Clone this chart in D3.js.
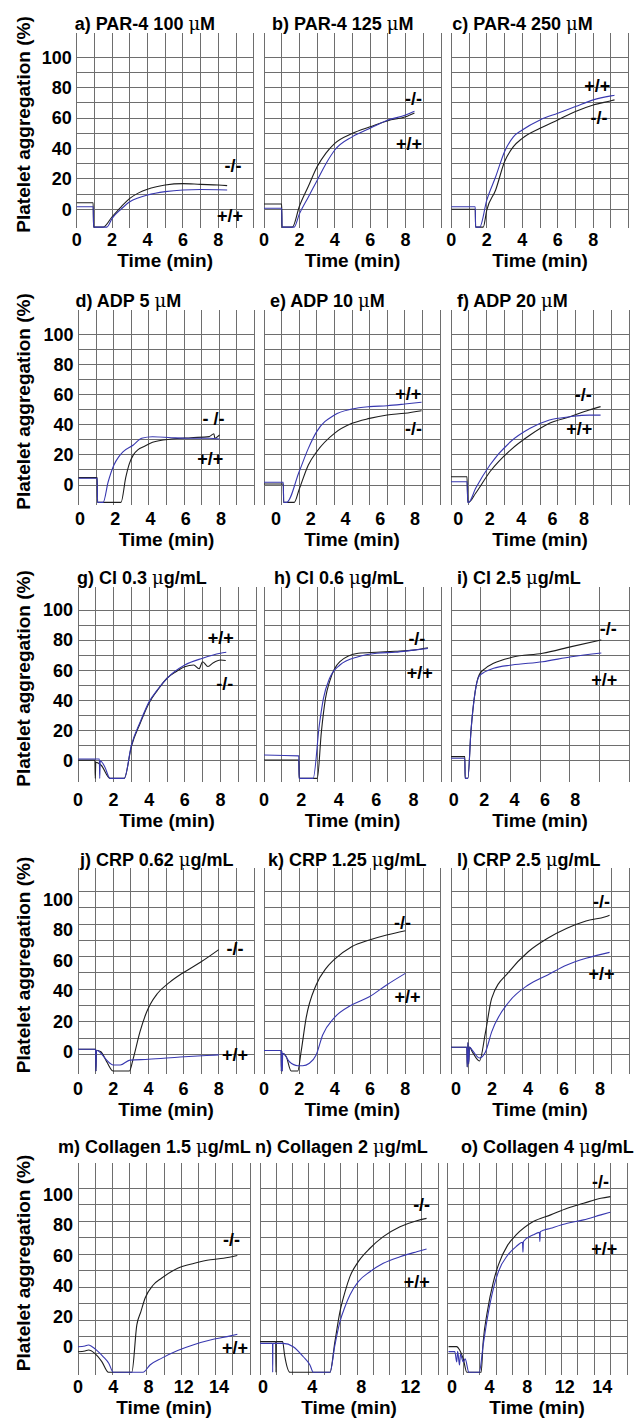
<!DOCTYPE html>
<html><head><meta charset="utf-8">
<script src="https://cdn.jsdelivr.net/npm/d3@7"></script>
<style>
html,body{margin:0;padding:0;background:#fff;}
svg{display:block;}
text{font-family:"Liberation Sans",Arial,Helvetica,sans-serif;font-weight:bold;fill:#000;}
</style></head><body>
<svg id="chart" width="644" height="1419"></svg>
<script>
// ---------------- DATA ----------------
const titles = ["a) PAR-4 100 μM","b) PAR-4 125 μM","c) PAR-4 250 μM",
  "d) ADP 5 μM","e) ADP 10 μM","f) ADP 20 μM",
  "g) Cl 0.3 μg/mL","h) Cl 0.6 μg/mL","i) Cl 2.5 μg/mL",
  "j) CRP 0.62 μg/mL","k) CRP 1.25 μg/mL","l) CRP 2.5 μg/mL",
  "m) Collagen 1.5 μg/mL","n) Collagen 2 μg/mL","o) Collagen 4 μg/mL"];
const yAxisTitle = "Platelet aggregation (%)";
const xAxisTitle = "Time (min)";
const yTicks = [0,20,40,60,80,100];
const minTicks = [0,2,4,6,8];
const minTickText = ["0","2","4","6","8"];
const colTicks = [0,4,8,12,16];
const colTickText = ["0","4","8","12","14"];
const koText = ["-/-","-/-","-/-","- /-","-/-","-/-","-/-","-/-","-/-","-/-","-/-","-/-","-/-","-/-","-/-"];
const wtText = "+/+";
// time span (min) covered by each recorder grid, left edge to right edge
const xDomains = [[0,10],[0,10],[0,10],[-0.08,9.9],[-0.69,9.43],[-0.47,10.87],
  [0,10],[0,9.47],[-0.18,11.53],[0,10],[0,10],[-0.28,9.61],[0,19.5],[-0.24,14.23],[-0.53,18.62]];
// label anchors (min, %)
const koLabelAt = [[8.83,29],[8.45,73],[8.33,60],[7.57,44.3],[7.9,37.6],[7.95,59.7],[8.25,51.4],[8.18,80.8],[10.17,87.9],[8.92,67.8],[7.84,84.9],[8.08,98.4],[17.4,70],[12.9,93],[15.8,108]];
const wtLabelAt = [[8.66,-4.2],[8.2,43],[8.23,81],[7.39,17.7],[7.6,60.8],[7.7,37.6],[8.02,81.6],[8.33,58.7],[9.9,53.6],[8.92,-1.7],[8.12,36.1],[8.08,51.4],[17.8,-0.7],[12.5,42.7],[16.2,64]];

// traces: [time (min), aggregation (%)]; KO = -/- (black), WT = +/+ (blue)
const aKO=[[0,4.3],[0.93,4.3],[0.95,-11.7],[1.5,-11.7],[2,-4.9],[2.5,1.5],[3,7.2],[3.5,10.8],[4,13.2],[4.5,14.8],[5,16],[6,16.9],[7,16.4],[8,16],[8.5,15.6]];
const aWT=[[0,1.7],[0.93,1.7],[0.96,-11.7],[1.7,-11.7],[2,-6],[2.5,0],[3,5],[3.5,7.6],[4,9.4],[5,11.6],[6,12.7],[7,13],[8,12.9],[8.5,12.7]];
const bKO=[[0,3.5],[1.0,3.5],[1.02,-11.7],[1.6,-11.7],[2,2],[2.5,15],[3,28],[3.5,37],[4,43.4],[5,50],[6,54.3],[7,58.3],[8,60.9],[8.5,63.4]];
const bWT=[[0,0.7],[1.0,0.7],[1.02,-11.7],[1.7,-11.7],[2,-3],[2.5,8],[3,19],[3.5,30],[4,39],[5,47.8],[6,53.3],[7,58.7],[8,62],[8.5,64.5]];
const cKO=[[0,0],[1.35,0],[1.37,-11.7],[1.8,-11.7],[2,-0.5],[2.5,12.7],[3,31.3],[3.5,41.2],[4,46.7],[5,53.3],[6,58.8],[7,64.3],[8,68.6],[9,71.4],[9.2,72]];
const cWT=[[0,1.7],[1.35,1.7],[1.37,-11.7],[1.6,-11.7],[2,6],[2.5,21.4],[3,37.9],[3.5,47.7],[4,52.2],[5,58.8],[6,63.2],[7,67.6],[8,72],[9,74.6],[9.2,75]];
const dKO=[[-0.08,4.9],[0.98,4.9],[1.0,-11.5],[2.33,-11.5],[2.6,5],[2.8,14],[3.03,20],[3.3,23.5],[3.61,25.4],[4.12,28.3],[5.19,30.5],[6.29,31.4],[7.33,32.1],[7.6,34],[7.65,31],[7.92,33.2]];
const dWT=[[-0.08,4.5],[0.98,4.5],[1.0,-11.5],[1.32,-11.5],[1.6,2],[1.93,13.3],[2.21,18.8],[2.44,22],[3.03,26.5],[3.5,31],[4.12,32],[5.19,31.4],[6.29,31],[7.33,31],[7.92,30.5]];
const eKO=[[-0.69,0.7],[0.42,0.7],[0.44,-11.5],[1.05,-11.5],[1.33,-3],[1.86,13.3],[2.34,22.1],[3.36,34.3],[4.37,40.9],[5.38,44.2],[6.39,46.5],[7.4,47.6],[8.37,49.3]];
const eWT=[[-0.69,1.8],[0.42,1.8],[0.44,-11.5],[0.61,-11.5],[1.33,8.8],[1.86,24.3],[2.34,35.4],[3.36,46.5],[4.37,50.4],[5.38,52],[6.39,52.6],[7.4,53.7],[8.37,54.9]];
const fKO=[[-0.47,5.5],[0.55,5.5],[0.6,-11.5],[0.65,-11.5],[1.1,-5.5],[2.01,8.8],[3.32,23.2],[4.57,33.2],[5.8,41],[7.1,45.3],[8.33,49.8],[9.06,52]];
const fWT=[[-0.47,2.2],[0.55,2.2],[0.6,-11.5],[0.65,-11.5],[1.1,-2.2],[2.01,13.3],[3.32,28.7],[4.57,37.6],[5.8,43.1],[7.1,45.3],[8.33,46.4],[9.06,46.4]];
const gKO=[[0,0.4],[0.95,0.4],[0.97,-11.7],[1.0,-1],[1.3,-3],[1.8,-11.7],[2.6,-11.7],[3,9.5],[3.5,25],[4,38.5],[4.45,46.5],[5,54.7],[5.5,59],[6,62.4],[6.5,63.5],[6.8,61],[7,65.7],[7.3,62.5],[7.6,65],[8,66.8],[8.3,66.5]];
const gWT=[[0,1.1],[1.2,1.1],[1.22,-11.7],[1.25,0],[1.5,-4],[1.8,-11.7],[2.6,-11.7],[3,10.4],[3.5,25.9],[4,39.2],[4.45,46.9],[5,54.7],[6,63.5],[7,68],[8,71.3],[8.33,72]];
const hKO=[[0,0.5],[1.86,0.5],[1.88,-11.7],[2.85,-11.7],[3.07,19.2],[3.29,41.4],[3.51,52.5],[4.06,65.7],[5.04,71.3],[6.03,72],[7.02,72.6],[8,73.4],[8.77,74.9]];
const hWT=[[0,3.8],[1.86,3.2],[1.88,-11.7],[2.63,-11.7],[2.96,23.7],[3.18,41.4],[3.51,54.7],[4.06,63.5],[5.04,69],[6.03,71.3],[7.02,72],[8,73.4],[8.77,74.5]];
const iKO=[[-0.18,2.7],[0.73,2.7],[0.75,-11.7],[0.93,-11.7],[1.13,19.2],[1.41,45.8],[1.67,56.9],[2.08,61.3],[2.62,64.6],[3.83,68.6],[5.85,71.3],[7.74,75.7],[9.71,80.1]];
const iWT=[[-0.18,1.6],[0.73,1.6],[0.75,-11.7],[0.93,-11.7],[1.13,19.2],[1.41,45.8],[1.67,56],[2.08,59.1],[2.62,61.3],[3.83,63.5],[5.85,65.7],[7.74,69],[9.71,71.5]];
const jKO=[[0,1.6],[1.0,1.6],[1.02,-12.7],[1.05,1],[1.3,0],[1.63,-6.6],[2.0,-12.7],[2.92,-12.7],[3.14,-4.4],[3.52,13],[3.9,26],[4.1,31],[4.5,38],[5.2,45.5],[6,52],[7,59],[8,67]];
const jWT=[[0,1.6],[1.0,1.6],[1.02,-12.7],[1.05,1],[1.3,-1],[1.63,-5.5],[2.0,-8.7],[2.4,-8.7],[2.95,-5.5],[4,-5],[5.8,-3.5],[7.3,-2.5],[8,-2.1]];
const kKO=[[0,0.8],[0.97,0.8],[0.98,-12.7],[1.0,0.5],[1.02,-12.7],[1.05,-1],[1.25,-3],[1.54,-12.7],[1.91,-12.7],[2.1,0],[2.38,21.9],[2.95,43.8],[3.51,54.7],[3.95,60.2],[4.96,68.9],[5.96,73.3],[6.94,76.6],[8,79.4]];
const kWT=[[0,0.8],[0.97,0.8],[0.985,-12.7],[1.01,0.5],[1.03,-12.7],[1.06,-1],[1.44,-6.6],[1.91,-9.2],[2.19,-9.2],[2.57,-7.6],[2.95,-2.2],[3.32,11],[3.95,21.9],[4.96,30.6],[5.96,36.1],[6.94,43.8],[8,51.4]];
const lKO=[[-0.28,2.9],[0.6,2.9],[0.62,-10],[0.66,6],[0.7,-8],[0.75,3],[0.9,0],[1.3,-6.1],[1.64,13],[1.98,35],[2.95,52.5],[4.01,65.6],[5.09,74.4],[6.16,81],[7.22,85.8],[8.3,88.6],[8.53,89.6]];
const lWT=[[-0.28,2.9],[0.6,2.9],[0.62,-10],[0.66,6],[0.7,-8],[0.75,3],[0.9,1],[1.3,-4.1],[1.64,0],[1.98,13],[2.95,32.8],[4.01,43.8],[5.09,50.4],[6.16,56.9],[7.22,61.3],[8.53,65.2]];
const mKO=[[0,-3.3],[0.8,-2.8],[1.2,-2.2],[1.9,-4.4],[2.7,-9.8],[3.45,-16.8],[6.1,-16.8],[6.67,14.3],[7.13,23],[7.6,31.8],[8.53,40.5],[9.46,44.9],[11.3,51.5],[13.2,54.7],[15,57],[16.5,58],[18.06,59.8]];
const mWT=[[0,0],[0.8,0.5],[1.17,1.1],[1.6,0],[2.1,-2.2],[2.87,-6.6],[3.5,-11],[4.0,-16.8],[7.37,-16.8],[8.16,-12],[9.5,-7.5],[11.3,-2.5],[13.2,1.5],[15,4.4],[16.9,6.6],[18.06,8.1]];
const nKO=[[-0.24,3.3],[1.04,3.3],[1.06,-16.8],[1.08,3.3],[1.6,3.3],[1.75,-5],[2.2,-16.8],[5.45,-16.8],[5.85,3.3],[6.26,23],[6.67,36],[7.07,46],[7.75,55.8],[8.7,64.6],[9.78,72.2],[11.14,78.7],[12.5,82.7],[13.3,84.2]];
const nWT=[[-0.24,2.2],[0.78,2.2],[0.79,-16.8],[0.81,2.2],[1.65,2.2],[2.46,0],[3.28,-6.6],[3.82,-12],[4.1,-16.8],[5.45,-16.8],[5.85,1.1],[6.26,16.4],[6.67,26.2],[7.07,33.9],[7.75,42.7],[8.7,49.2],[9.78,54.7],[11.14,59],[12.5,62.3],[13.3,64.1]];
const oKO=[[-0.37,0.05],[0.49,0.05],[0.8,-2],[1.2,-8],[1.58,-16.8],[3.1,-16.8],[3.32,3.3],[3.76,23],[4.41,42.7],[4.94,53.7],[5.94,66.8],[6.82,73.3],[8.65,82.1],[10.5,86.5],[12.27,90.9],[14,94.1],[15.84,97.4],[16.85,98.5]];
const oWT=[[-0.37,-3.2],[0.3,-3.2],[0.5,-10],[0.6,-3],[0.8,-12],[0.9,-5],[1.2,-10],[1.4,-8],[1.8,-16.8],[2.9,-16.8],[3.32,1.1],[3.76,18.6],[4.41,38.3],[4.94,49.3],[5.94,60.2],[6.82,65.7],[7.5,68.5],[7.55,62],[7.6,69],[8.65,73.4],[9.3,75],[9.35,69],[9.4,75.5],[10.5,77.7],[12.27,81],[14,83.2],[15.84,86.5],[16.85,88.2]];
const koSeries=[aKO,bKO,cKO,dKO,eKO,fKO,gKO,hKO,iKO,jKO,kKO,lKO,mKO,nKO,oKO];
const wtSeries=[aWT,bWT,cWT,dWT,eWT,fWT,gWT,hWT,iWT,jWT,kWT,lWT,mWT,nWT,oWT];

// ---------------- LAYOUT ----------------
const rowGeom = [
 {y0:209.3, y100:57.3, top:33, bottom:228, titleY:29.5, tickY:246, timeY:267, hTop:100, hStep:10},
 {y0:485, y100:334.3, top:310, bottom:505, titleY:307, tickY:525, timeY:546, hTop:100, hStep:10},
 {y0:760.7, y100:610, top:587, bottom:782, titleY:584, tickY:806, timeY:827, hTop:100, hStep:10},
 {y0:1051.7, y100:899.3, top:868, bottom:1074, titleY:866, tickY:1095, timeY:1116, hTop:105, hStep:10.67},
 {y0:1346.7, y100:1194.3, top:1163, bottom:1375, titleY:1153, tickY:1393, timeY:1414, hTop:103.9, hStep:10.83}
];
const panelBox = [
 [76.7,253.7,10],[264,441,10],[451.3,628.7,10],
 [78.5,254.5,10],[264,440,10],[451,629,10],
 [78,256,10],[264,441,10],[451,629,6],
 [78,254,10],[264,440.7,10],[451,629,10],
 [78,250,10],[260,438,11],[447,627,11]
];
const titleDx = [-2,8,1,-3,6,6,-1,10,6,2,4,6,-20,-5,14];
const colors = {ko:"#1e1e1e", wt:"#3838b0", grid:"#6e6e6e"};

// ---------------- DRAW ----------------
const svg = d3.select("#chart");

function addTitle(sel, str){
  const parts = str.split("μ");
  parts.forEach((p,i)=>{
    if(i>0) sel.append("tspan").attr("font-family","'DejaVu Serif','Liberation Serif',serif")
              .style("font-weight","normal").text("μ");
    if(p.length) sel.append("tspan").text(p);
  });
}

titles.forEach((title, idx)=>{
  const row = Math.floor(idx/3);
  const R = rowGeom[row];
  const [left,right,cols] = panelBox[idx];
  const dom = xDomains[idx];
  const x = d3.scaleLinear().domain(dom).range([left,right]);
  const y = d3.scaleLinear().domain([0,100]).range([R.y0,R.y100]);
  const g = svg.append("g");

  // recorder paper grid
  const vStep = (dom[1]-dom[0])/cols;
  const vLines = d3.range(cols+1).map(k=>dom[0]+k*vStep);
  g.append("g").selectAll("line").data(vLines).join("line")
    .attr("x1",d=>x(d)).attr("x2",d=>x(d)).attr("y1",R.top).attr("y2",R.bottom)
    .attr("stroke",colors.grid).attr("stroke-width",1).attr("shape-rendering","crispEdges");
  const hLines = d3.range(11).map(k=>R.hTop-k*R.hStep);
  g.append("g").selectAll("line").data(hLines).join("line")
    .attr("x1",left).attr("x2",right).attr("y1",d=>y(d)).attr("y2",d=>y(d))
    .attr("stroke",colors.grid).attr("stroke-width",1).attr("shape-rendering","crispEdges");

  // traces
  const line = d3.line().x(d=>x(d[0])).y(d=>y(d[1])).curve(d3.curveMonotoneX);
  g.append("path").datum(koSeries[idx]).attr("d",line).attr("fill","none")
    .attr("stroke",colors.ko).attr("stroke-width",1.1).attr("stroke-linejoin","round");
  g.append("path").datum(wtSeries[idx]).attr("d",line).attr("fill","none")
    .attr("stroke",colors.wt).attr("stroke-width",1.1).attr("stroke-linejoin","round");

  // genotype labels
  g.append("text").attr("x",x(koLabelAt[idx][0])).attr("y",y(koLabelAt[idx][1])).attr("dy","0.35em")
    .attr("text-anchor","middle").attr("font-size",18).text(koText[idx]);
  g.append("text").attr("x",x(wtLabelAt[idx][0])).attr("y",y(wtLabelAt[idx][1])).attr("dy","0.35em")
    .attr("text-anchor","middle").attr("font-size",18).text(wtText);

  // x tick labels (only those inside this panel's time span)
  const tv = row===4 ? colTicks : minTicks;
  const tt = row===4 ? colTickText : minTickText;
  const ticks = tv.map((v,i)=>({v, s:tt[i]})).filter(d=>d.v>=dom[0] && d.v<=dom[1]);
  g.append("g").selectAll("text").data(ticks).join("text")
    .attr("x",d=>x(d.v)).attr("y",R.tickY).attr("text-anchor","middle").attr("font-size",18)
    .text(d=>d.s);
  g.append("text").attr("x",(left+right)/2).attr("y",R.timeY).attr("text-anchor","middle")
    .attr("font-size",19).text(xAxisTitle);

  // y tick labels (left panels only)
  if(idx%3===0){
    g.append("g").selectAll("text").data(yTicks).join("text")
      .attr("x",left-5).attr("y",d=>y(d)).attr("dy","0.35em").attr("text-anchor","end")
      .attr("font-size",18).text(d=>d);
    const cy = (R.top+R.bottom)/2 - 6;
    g.append("text").attr("transform",`translate(23,${cy}) rotate(-90)`)
      .attr("text-anchor","middle").attr("dy","0.35em").attr("font-size",19).text(yAxisTitle);
  }

  // panel title
  const t = g.append("text").attr("x",left+titleDx[idx]).attr("y",R.titleY).attr("font-size",18);
  addTitle(t,title);
});
</script>
</body></html>
